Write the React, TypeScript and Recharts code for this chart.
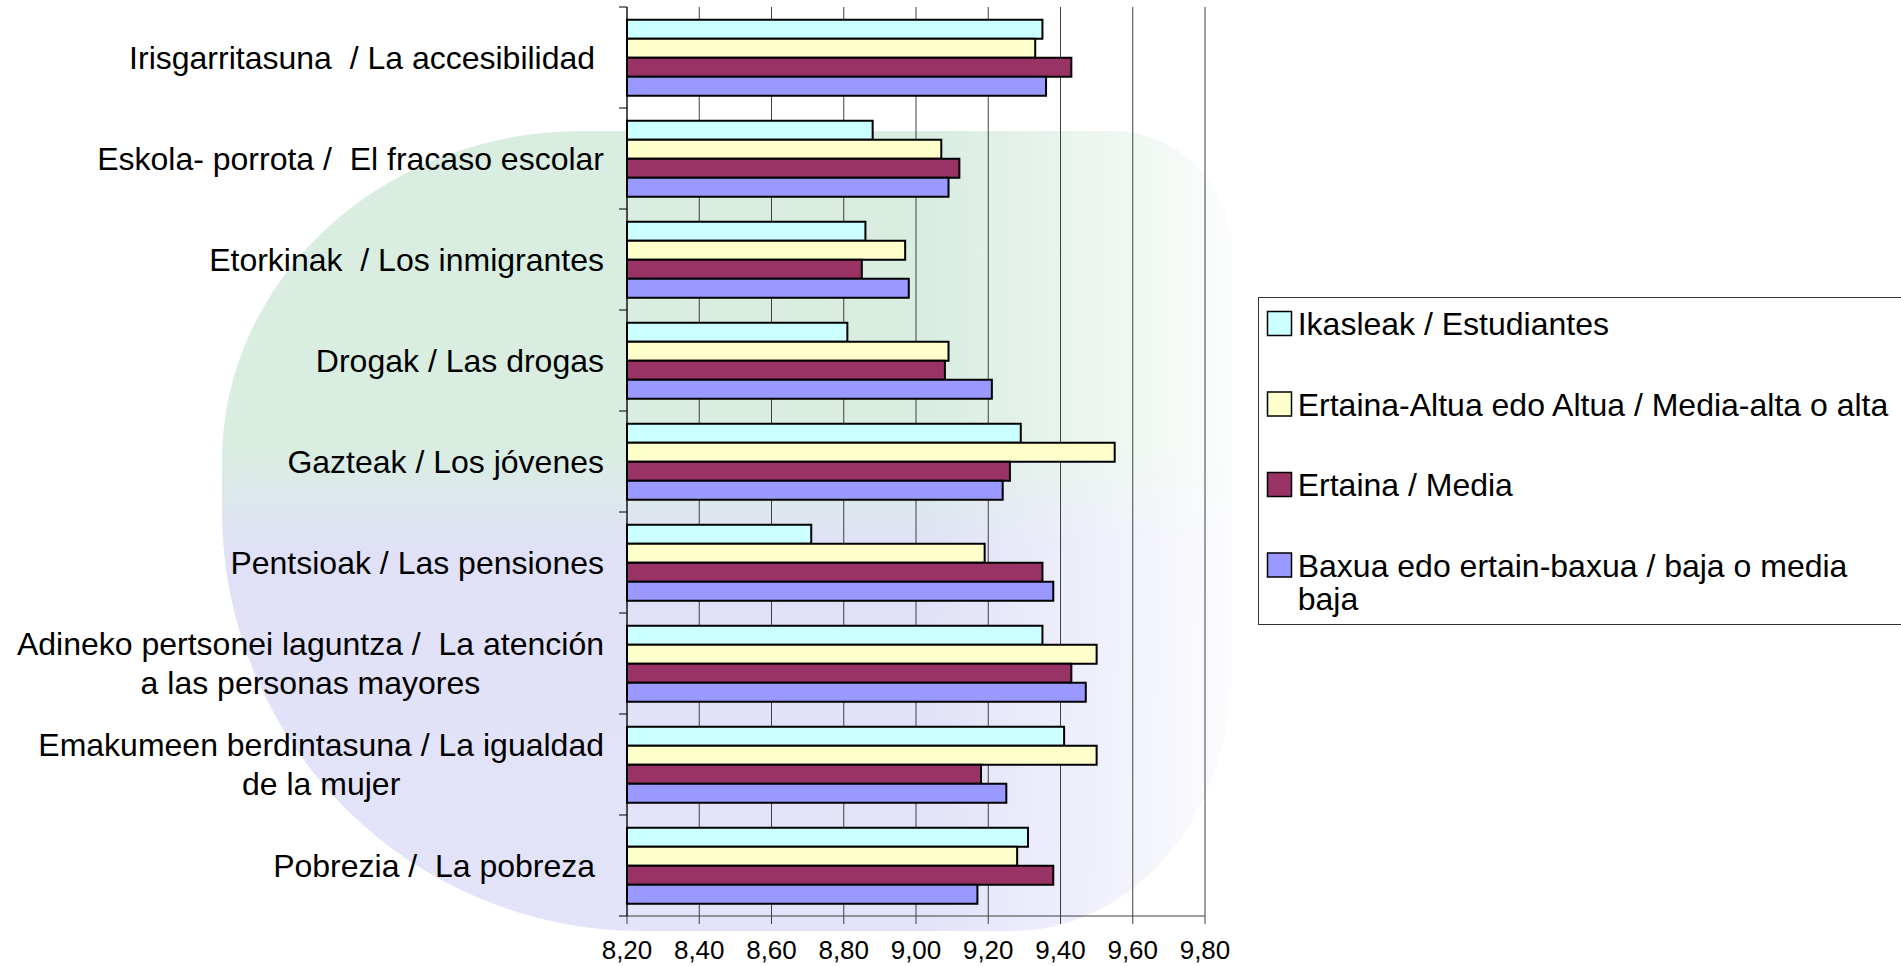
import React from 'react';
import { BarChart, Bar, XAxis, YAxis, CartesianGrid, Legend } from 'recharts';

// ---------- data ----------
const categories: string[] = [
  'Irisgarritasuna  / La accesibilidad ',
  'Eskola- porrota /  El fracaso escolar',
  'Etorkinak  / Los inmigrantes',
  'Drogak / Las drogas',
  'Gazteak / Los jóvenes',
  'Pentsioak / Las pensiones',
  'Adineko pertsonei laguntza /  La atención\na las personas mayores',
  'Emakumeen berdintasuna / La igualdad\nde la mujer',
  'Pobrezia /  La pobreza ',
];

const seriesNames: string[] = [
  'Ikasleak / Estudiantes',
  'Ertaina-Altua edo Altua / Media-alta o alta',
  'Ertaina / Media',
  'Baxua edo ertain-baxua / baja o media baja',
];

const seriesColors: string[] = ['#CCFFFF', '#FFFFCC', '#993366', '#9999FF'];

const ikasleak: number[] = [9.35, 8.88, 8.86, 8.81, 9.29, 8.71, 9.35, 9.41, 9.31];
const ertainaAltua: number[] = [9.33, 9.07, 8.97, 9.09, 9.55, 9.19, 9.5, 9.5, 9.28];
const ertaina: number[] = [9.43, 9.12, 8.85, 9.08, 9.26, 9.35, 9.43, 9.18, 9.38];
const baxua: number[] = [9.36, 9.09, 8.98, 9.21, 9.24, 9.38, 9.47, 9.25, 9.17];

const xTicks: number[] = [8.2, 8.4, 8.6, 8.8, 9.0, 9.2, 9.4, 9.6, 9.8];

const seriesValues: number[][] = [ikasleak, ertainaAltua, ertaina, baxua];

const data = categories.map((name, i) => ({
  name,
  s0: ikasleak[i],
  s1: ertainaAltua[i],
  s2: ertaina[i],
  s3: baxua[i],
}));

// ---------- layout ----------
const W = 1901;
const H = 966;
const FONT = '"Liberation Sans", Arial, Helvetica, sans-serif';
const PLOT_TOP = 7;
const PLOT_BOTTOM = 916;
const PLOT_LEFT = 627;
const PLOT_RIGHT = 1205;
const BAND = (PLOT_BOTTOM - PLOT_TOP) / categories.length;

let ctx: CanvasRenderingContext2D | null = null;
function measure(text: string, size: number): number {
  if (!ctx) {
    const c = document.createElement('canvas');
    ctx = c.getContext('2d');
  }
  if (!ctx) return text.length * size * 0.5;
  ctx.font = `${size}px ${FONT}`;
  return ctx.measureText(text).width;
}

function wrap(text: string, size: number, maxW: number): string[] {
  const words = text.split(' ');
  const lines: string[] = [];
  let cur = '';
  for (const w of words) {
    const t = cur ? cur + ' ' + w : w;
    if (cur && measure(t, size) > maxW) {
      lines.push(cur);
      cur = w;
    } else {
      cur = t;
    }
  }
  if (cur) lines.push(cur);
  return lines;
}

function CategoryTick(props: any) {
  const { x, y, payload } = props;
  const value = String(payload.value);
  let index = props.index;
  if (typeof index !== 'number') index = categories.indexOf(value);
  const lines = value.split('\n');
  const size = 32;
  const lineH = 39;
  const widths = lines.map((l) => measure(l, size));
  const maxW = Math.max(...widths);
  const startY = y - ((lines.length - 1) * lineH) / 2;
  return (
    <g>
      {lines.map((l, k) => (
        <text
          key={k}
          x={lines.length === 1 ? x : x - maxW / 2}
          y={startY + k * lineH}
          dy="0.355em"
          textAnchor={lines.length === 1 ? 'end' : 'middle'}
          fontSize={size}
          fontFamily={FONT}
          fill="#000"
          style={{ whiteSpace: 'pre' }}
        >
          {l}
        </text>
      ))}
      <line x1={PLOT_LEFT - 8} x2={PLOT_LEFT} y1={y - BAND / 2} y2={y - BAND / 2} stroke="#000" strokeWidth={1} />
      {index === categories.length - 1 && (
        <line x1={PLOT_LEFT - 8} x2={PLOT_LEFT} y1={y + BAND / 2} y2={y + BAND / 2} stroke="#000" strokeWidth={1} />
      )}
    </g>
  );
}

const LEGEND_LEFT = 1258;
const LEGEND_TOP = 297;
const LEGEND_W = 700;
const LEGEND_H = 328;

function LegendBox() {
  const baselines = [38, 118.5, 199, 279.5];
  return (
    <svg width={LEGEND_W} height={LEGEND_H} style={{ display: 'block', overflow: 'visible' }}>
      <rect x={0.5} y={0.5} width={LEGEND_W} height={LEGEND_H - 1} fill="#fff" stroke="#333" strokeWidth={1} />
      {seriesNames.map((n, i) => {
        const lines = wrap(n, 32, 600);
        return (
          <g key={i}>
            <rect x={9.5} y={baselines[i] - 23.5} width={24} height={24} fill={seriesColors[i]} stroke="#000" strokeWidth={1.5} />
            {lines.map((l, k) => (
              <text key={k} x={39.7} y={baselines[i] + k * 33} fontSize={32} fontFamily={FONT} fill="#000">
                {l}
              </text>
            ))}
          </g>
        );
      })}
    </svg>
  );
}

export default function App() {
  return (
    <div style={{ position: 'absolute', left: 0, top: 0, width: W, height: H, overflow: 'hidden', background: '#fff' }}>
      {/* faint watermark behind the plot */}
      <div
        style={{
          position: 'absolute',
          left: 222,
          top: 131,
          width: 1010,
          height: 800,
          borderRadius: '360px 120px 220px 420px / 330px 120px 260px 420px',
          background:
            'linear-gradient(to right, rgba(255,255,255,0) 70%, rgba(255,255,255,0.9) 100%), linear-gradient(to bottom, #d8ede0 0%, #d8ede0 40%, #dfe0f7 52%, #e2e2fa 100%)',
          opacity: 0.95,
        }}
      />
      <BarChart
        width={W}
        height={H}
        data={data}
        layout="vertical"
        margin={{ top: PLOT_TOP, right: W - PLOT_RIGHT, bottom: 0, left: 0 }}
        barCategoryGap="12.5%"
        barGap={0}
      >
        <CartesianGrid horizontal={false} vertical={true} stroke="#404040" strokeWidth={1} />
        <XAxis
          type="number"
          domain={[8.2, 9.8]}
          ticks={xTicks}
          interval={0}
          height={H - PLOT_BOTTOM}
          tickSize={8}
          tickMargin={17}
          axisLine={{ stroke: '#404040', strokeWidth: 1 }}
          tickLine={{ stroke: '#404040', strokeWidth: 1 }}
          tick={{ fontSize: 26, fontFamily: FONT, fill: '#000' }}
          tickFormatter={(v: number) => v.toFixed(2).replace('.', ',')}
        />
        <YAxis
          type="category"
          dataKey="name"
          width={PLOT_LEFT}
          interval={0}
          tickSize={8}
          tickMargin={15}
          tickLine={false}
          axisLine={{ stroke: '#000', strokeWidth: 1 }}
          tick={<CategoryTick />}
        />
        <Legend
          layout="vertical"
          align="center"
          verticalAlign="middle"
          wrapperStyle={{ position: 'absolute', left: LEGEND_LEFT, top: LEGEND_TOP, width: LEGEND_W, height: LEGEND_H }}
          content={() => <LegendBox />}
        />
        {seriesValues.map((_, i) => (
          <Bar
            key={i}
            dataKey={`s${i}`}
            name={seriesNames[i]}
            fill={seriesColors[i]}
            stroke="#000"
            strokeWidth={2}
            isAnimationActive={false}
          />
        ))}
      </BarChart>
    </div>
  );
}
